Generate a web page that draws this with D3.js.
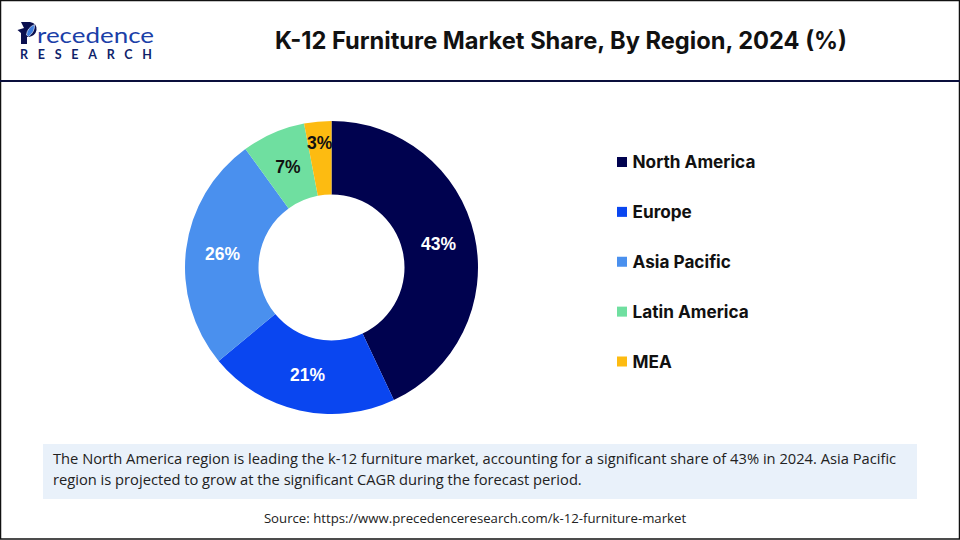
<!DOCTYPE html>
<html>
<head>
<meta charset="utf-8">
<script src="https://cdn.jsdelivr.net/npm/d3@7"></script>
<style>
  html, body { margin: 0; padding: 0; background: #fff; }
  svg { display: block; }
</style>
</head>
<body>
<div id="chart"></div>
<script>
var regions = ["North America", "Europe", "Asia Pacific", "Latin America", "MEA"];
var shares = [43, 21, 26, 7, 3];
var colors = ["#00024f", "#0a46f0", "#4a90ee", "#6fdfa0", "#fdbb11"];
var labelColors = ["#fff", "#fff", "#fff", "#111", "#111"];
var title = "K-12 Furniture Market Share, By Region, 2024 (%)";
var note = [
  "The North America region is leading the k-12 furniture market, accounting for a significant share of 43% in 2024. Asia Pacific",
  "region is projected to grow at the significant CAGR during the forecast period."
];
var source = "Source: https://www.precedenceresearch.com/k-12-furniture-market";

var svgWidth = 960;
var svgHeight = 540;
var font = "Inter, 'Open Sans', sans-serif";

var svg = d3.select("#chart")
  .append("svg")
  .attr("width", svgWidth)
  .attr("height", svgHeight);

// frame and header rule
svg.append("rect")
  .attr("x", 0.5).attr("y", 0.5)
  .attr("width", svgWidth - 1).attr("height", svgHeight - 1.5)
  .attr("fill", "#fff").attr("stroke", "#111").attr("stroke-width", 1.5);

svg.append("line")
  .attr("x1", 0).attr("x2", svgWidth)
  .attr("y1", 81).attr("y2", 81)
  .attr("stroke", "#0a0f3c").attr("stroke-width", 2);

// logo
var logo = svg.append("g");
logo.append("path")
  .attr("d", "M21 22 H30 Q37 23 36.5 30 Q35.5 35.5 29 37 L27 37 V44 H21 V33 L17.5 30 L24 28 Z")
  .attr("fill", "#0a0f4f");
logo.append("path")
  .attr("d", "M26.5 35 Q27 28 34.5 24.5 Q35 32 28.5 36.5 Z")
  .attr("fill", "#3f7fe0")
  .attr("stroke", "#fff")
  .attr("stroke-width", 0.6);
logo.append("text")
  .attr("x", 37).attr("y", 43)
  .attr("font-family", "Lato, sans-serif")
  .attr("font-size", 21)
  .attr("textLength", 117)
  .attr("lengthAdjust", "spacingAndGlyphs")
  .attr("fill", "#1b3fa8")
  .text("recedence");
logo.append("text")
  .attr("x", 20).attr("y", 58.5)
  .attr("font-family", "Lato, sans-serif")
  .attr("font-size", 12.5)
  .attr("font-weight", 700)
  .attr("textLength", 132)
  .attr("fill", "#0f1f6b")
  .text("RESEARCH");

// title
svg.append("text")
  .attr("x", 561).attr("y", 49)
  .attr("text-anchor", "middle")
  .attr("font-family", font)
  .attr("font-size", 24)
  .attr("font-weight", 700)
  .attr("textLength", 572)
  .attr("lengthAdjust", "spacingAndGlyphs")
  .attr("fill", "#111")
  .text(title);

// donut
var outerRadius = 146.5;
var innerRadius = 73;

var pie = d3.pie().value(d => d).sort(null);
var arc = d3.arc().innerRadius(innerRadius).outerRadius(outerRadius);

var chartGroup = svg.append("g")
  .attr("transform", "translate(331.5, 267.5)");

var slices = pie(shares);

chartGroup.selectAll("path")
  .data(slices)
  .enter()
  .append("path")
  .attr("d", arc)
  .attr("fill", (d, i) => colors[i]);

// the 3% label sits higher than the centroid in the picture, so nudge only that one
chartGroup.selectAll("text")
  .data(slices)
  .enter()
  .append("text")
  .attr("transform", function(d, i) {
    var c = arc.centroid(d);
    return "translate(" + (c[0] + (i == 4 ? -1.5 : 0)) + "," + (c[1] + (i == 4 ? -16 : 0)) + ")";
  })
  .attr("text-anchor", "middle")
  .attr("dy", "0.36em")
  .attr("font-family", "'Liberation Sans', Arial, sans-serif")
  .attr("font-size", 17.5)
  .attr("font-weight", 700)
  .attr("fill", (d, i) => labelColors[i])
  .text(d => d.data + "%");

// legend
var legendY = d3.scalePoint().domain(regions).range([162, 361.5]);

var legend = svg.selectAll(".legend")
  .data(regions)
  .enter()
  .append("g")
  .attr("class", "legend")
  .attr("transform", d => "translate(617," + legendY(d) + ")");

legend.append("rect")
  .attr("x", 0).attr("y", -5)
  .attr("width", 10).attr("height", 10)
  .attr("fill", (d, i) => colors[i]);

legend.append("text")
  .attr("x", 15.5).attr("dy", "0.36em")
  .attr("font-family", font)
  .attr("font-size", 17.2)
  .attr("font-weight", 700)
  .attr("fill", "#111")
  .text(d => d);

// note box
svg.append("rect")
  .attr("x", 43).attr("y", 444)
  .attr("width", 874).attr("height", 55)
  .attr("fill", "#e9f1fa");

svg.selectAll(".note")
  .data(note)
  .enter()
  .append("text")
  .attr("class", "note")
  .attr("x", 53)
  .attr("y", (d, i) => 464 + i * 20.5)
  .attr("font-family", "'Open Sans', sans-serif")
  .attr("font-size", 14.7)
  .attr("fill", "#222")
  .text(d => d);

svg.append("text")
  .attr("x", 475).attr("y", 523)
  .attr("text-anchor", "middle")
  .attr("font-family", "'Open Sans', sans-serif")
  .attr("font-size", 13.2)
  .attr("fill", "#222")
  .text(source);
</script>
</body>
</html>
